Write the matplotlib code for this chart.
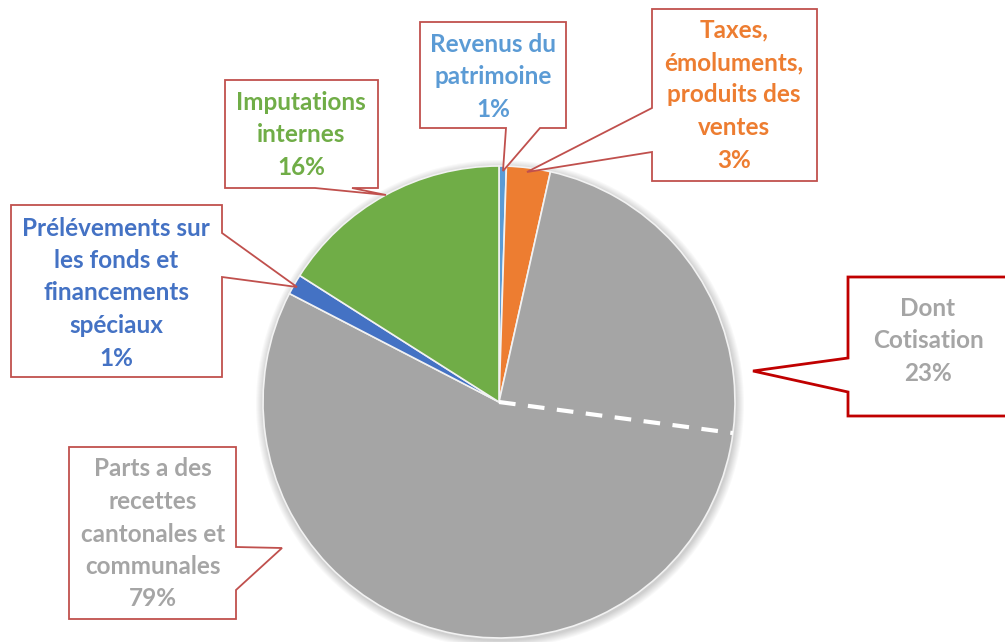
import matplotlib.pyplot as plt
from matplotlib.patches import Polygon, Circle
import numpy as np

plt.rcParams['font.family'] = ['Lato', 'DejaVu Sans']

# slices, clockwise from 12 o'clock
categories = ['Revenus du\npatrimoine', 'Taxes,\némoluments,\nproduits des\nventes',
              'Parts a des\nrecettes\ncantonales et\ncommunales',
              'Prélévements sur\nles fonds et\nfinancements\nspéciaux', 'Imputations\ninternes']
values = [0.5, 3.0, 79.1, 1.4, 16.0]
pct_labels = ['1%', '3%', '79%', '1%', '16%']
colors = ['#5B9BD5', '#ED7D31', '#A5A5A5', '#4472C4', '#70AD47']

# share of "Parts" that is cotisation
cotisation = 23.6
cotisation_label = 'Dont\nCotisation'
cotisation_pct = '23%'

W, H = 1005, 642
fig = plt.figure(figsize=(W / 100, H / 100), dpi=100)
ax = fig.add_axes([0, 0, 1, 1])

cx, cy, r = 499, H - 402, 236

# soft shadow
for k in range(8):
    ax.add_patch(Circle((cx + 1, cy - 2), r + 1 + k, color='k', alpha=0.025, lw=0, zorder=0))

ax.pie(values, colors=colors, startangle=90, counterclock=False,
       center=(cx, cy), radius=r,
       wedgeprops=dict(edgecolor='#F2F2F2', linewidth=1.2, zorder=2))

# dashed separator inside the grey slice
ang = np.deg2rad(90 - 360 * (values[0] + values[1] + cotisation) / 100)
ax.plot([cx, cx + r * np.cos(ang)], [cy, cy + r * np.sin(ang)],
        color='white', lw=3, ls=(0, (4, 3)), zorder=3, solid_capstyle='butt')


def callout(pts, text, color, tx, ty, ec='#C0504D', lw=1.3):
    pts = [(x, H - y) for x, y in pts]
    ax.add_patch(Polygon(pts, closed=True, facecolor='white', edgecolor=ec,
                         lw=lw, zorder=5, joinstyle='miter'))
    ax.text(tx, H - ty, text, color=color, fontsize=17.5, fontweight='bold',
            ha='center', va='center', linespacing=1.5, zorder=6)


callout([(420, 22), (566, 22), (566, 128), (540, 128), (503, 171), (506, 128), (420, 128)],
        categories[0] + '\n' + pct_labels[0], colors[0], 493, 77)
callout([(652, 9), (817, 9), (817, 181), (652, 181), (652, 152), (527, 172), (652, 108)],
        categories[1] + '\n' + pct_labels[1], colors[1], 734, 95)
callout([(69, 447), (236, 447), (236, 547), (282, 548), (236, 590), (236, 619), (69, 619)],
        categories[2] + '\n' + pct_labels[2], colors[2], 153, 534)
callout([(11, 205), (222, 205), (222, 233), (297, 287), (222, 277), (222, 377), (11, 377)],
        categories[3] + '\n' + pct_labels[3], colors[3], 116, 293)
callout([(225, 80), (378, 80), (378, 188), (352, 188), (386, 195), (315, 188), (225, 188)],
        categories[4] + '\n' + pct_labels[4], colors[4], 301, 135)
callout([(848, 277), (1012, 277), (1012, 416), (848, 416), (848, 392), (753, 371), (848, 358)],
        cotisation_label + '\n' + cotisation_pct, colors[2], 928, 341, ec='#C00000', lw=2)

ax.set_xlim(0, W)
ax.set_ylim(0, H)
ax.set_aspect('auto')
ax.axis('off')

fig.savefig('out.png', dpi=100)
